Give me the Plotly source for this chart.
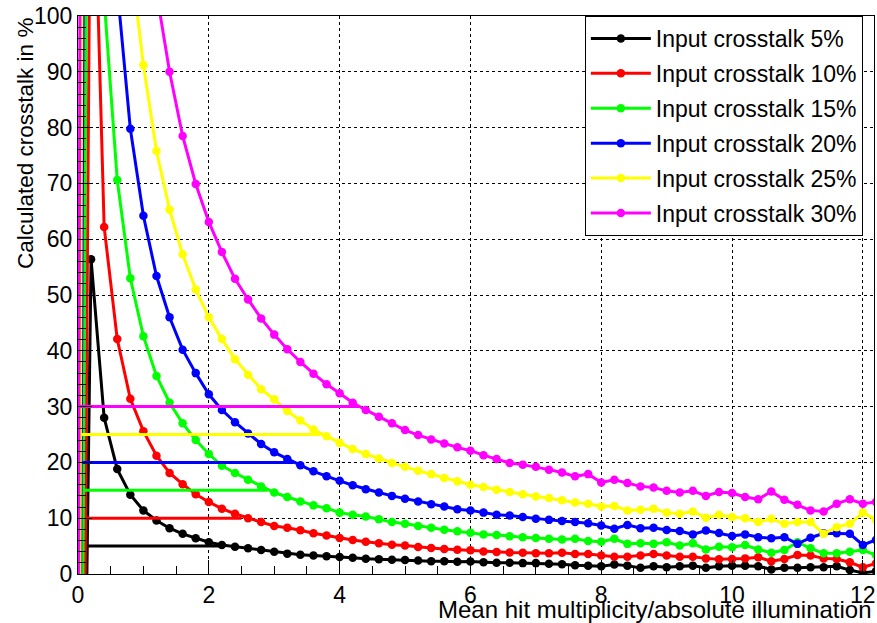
import plotly.graph_objects as go

# Mean hit multiplicity (x) sampled every 0.2, preceded by the x = 0 start point
mu = [0.0] + [round(0.2 * i, 1) for i in range(1, 62)]

series_names = ["Input crosstalk 5%", "Input crosstalk 10%", "Input crosstalk 15%",
                "Input crosstalk 20%", "Input crosstalk 25%", "Input crosstalk 30%"]
series_colors = ["#000000", "#ff0000", "#00ff00", "#0000ff", "#ffff00", "#ff00ff"]

# Input crosstalk levels (%) and how far their reference lines run along x
input_levels = [5, 10, 15, 20, 25, 30]
level_line_end = [2.17, 2.5, 2.9, 3.3, 3.72, 4.3]

ct05 = [-120, 56.4, 28.0, 18.8, 14.2, 11.4, 9.6, 8.2, 7.2, 6.4, 5.7,
        5.2, 4.9, 4.6, 4.3, 4.0, 3.65, 3.45, 3.3, 3.2, 3.05,
        2.9, 2.75, 2.65, 2.55, 2.5, 2.4, 2.3, 2.3, 2.2, 2.25,
        2.1, 2.0, 2.0, 1.95, 1.95, 1.85, 1.75, 1.55, 1.5, 1.4,
        1.7, 1.5, 1.1, 1.4, 1.2, 1.4, 1.5, 1.1, 1.4, 1.5,
        1.5, 1.4, 0.8, 1.1, 1.1, 1.2, 1.2, 1.4, 0.7, 0.2,
        0.5]

ct10 = [-174, 146, 62.2, 42.1, 31.4, 25.6, 21.2, 18.1, 16.1, 14.3, 12.9,
        11.7, 10.8, 10.0, 9.3, 8.6, 8.3, 7.85, 7.3, 6.9, 6.45,
        6.1, 5.8, 5.5, 5.25, 5.1, 4.85, 4.65, 4.5, 4.35, 4.25,
        4.05, 3.95, 3.85, 3.8, 3.7, 3.7, 3.8, 3.6, 3.6, 3.3,
        3.1, 3.1, 3.3, 3.6, 3.3, 3.1, 3.1, 2.8, 2.65, 2.7,
        2.8, 3.0, 2.3, 2.7, 3.4, 3.3, 2.8, 2.7, 2.1, 1.2,
        1.9]

ct15 = [-150, 250, 103, 70.6, 53.0, 42.6, 35.5, 30.7, 27.0, 24.0, 21.5,
        19.4, 18.1, 16.9, 15.7, 14.6, 13.8, 13.0, 12.3, 11.8, 11.0,
        10.6, 10.3, 9.8, 9.3, 9.0, 8.6, 8.3, 7.95, 7.65, 7.4,
        7.1, 7.0, 6.75, 6.6, 6.45, 6.3, 6.2, 6.3, 5.9, 5.8,
        6.3, 5.4, 5.5, 5.4, 5.7, 5.1, 5.5, 4.4, 4.9, 4.8,
        5.2, 4.4, 3.8, 4.3, 5.7, 4.6, 3.7, 3.7, 4.0, 4.3,
        3.4]

ct20 = [-100, 400, 160, 105, 79.8, 64.2, 53.4, 46.0, 40.2, 36.0, 32.2,
        29.4, 27.2, 25.2, 23.3, 21.8, 20.6, 19.5, 18.4, 17.5, 16.7,
        15.9, 15.2, 14.6, 14.0, 13.5, 13.0, 12.5, 12.1, 11.6, 11.4,
        11.0, 10.6, 10.5, 10.2, 9.9, 9.7, 9.5, 9.3, 9.1, 8.7,
        8.1, 8.8, 8.2, 8.3, 7.9, 7.7, 7.1, 7.8, 7.35, 6.8,
        7.1, 6.6, 6.4, 6.6, 5.4, 6.5, 7.3, 7.3, 7.2, 5.2,
        6.1]

ct25 = [-105, 600, 230, 150, 110.7, 91.2, 75.8, 65.3, 57.3, 51.0, 46.0,
        42.1, 38.5, 35.7, 33.1, 31.3, 29.2, 27.5, 25.9, 24.7, 23.5,
        22.4, 21.5, 20.7, 19.9, 19.2, 18.5, 17.9, 17.2, 16.6, 16.0,
        15.6, 15.1, 14.7, 14.3, 13.9, 13.6, 13.2, 12.8, 12.6, 12.1,
        12.2, 11.4, 11.5, 11.7, 11.0, 10.8, 11.2, 10.1, 10.6, 10.2,
        10.0, 9.3, 9.9, 9.0, 9.3, 9.3, 7.2, 8.4, 9.0, 11.0,
        9.7]

ct30 = [-50, 1000, 400, 230, 165, 128, 104.3, 90.0, 78.5, 69.9, 63.1,
        57.7, 52.9, 49.2, 45.8, 42.9, 40.3, 38.0, 35.9, 34.0, 32.4,
        30.7, 29.4, 28.2, 27.0, 25.8, 24.9, 24.1, 23.4, 22.7, 22.1,
        21.3, 20.6, 19.9, 19.6, 19.2, 18.7, 18.2, 17.5, 17.9, 16.4,
        16.9, 16.3, 15.7, 15.5, 14.9, 14.6, 14.9, 14.0, 14.7, 14.5,
        13.8, 13.4, 14.8, 13.3, 12.4, 11.4, 11.2, 12.6, 13.4, 12.6,
        12.9]

all_series = [ct05, ct10, ct15, ct20, ct25, ct30]

FONT = "Liberation Sans, Arial, Helvetica, sans-serif"

fig = go.Figure()

for name, color, values, level, x_end in zip(series_names, series_colors, all_series,
                                               input_levels, level_line_end):
    # horizontal marker of the injected crosstalk level
    fig.add_trace(go.Scatter(
        x=[0, x_end], y=[level, level], mode="lines",
        line=dict(color=color, width=3),
        showlegend=False, hoverinfo="skip", legendgroup=name,
    ))
    fig.add_trace(go.Scatter(
        x=mu, y=values, mode="lines+markers", name=name, legendgroup=name,
        line=dict(color=color, width=3),
        marker=dict(color=color, size=8.5),
    ))

axis_common = dict(
    showline=True, linecolor="black", linewidth=1, mirror=True,
    ticks="inside", ticklen=14, tickcolor="black",
    showgrid=True, gridcolor="black", griddash="dot", gridwidth=1,
    zeroline=False, ticklabeloverflow="allow",
    tickfont=dict(family=FONT, size=23, color="black"),
)

fig.update_layout(
    width=877, height=623,
    margin=dict(l=78, r=1, t=16, b=49),
    paper_bgcolor="white", plot_bgcolor="white",
    font=dict(family=FONT, color="black", size=22),
    legend=dict(
        x=0.986, xanchor="right", y=1.0, yanchor="top",
        bgcolor="white", bordercolor="black", borderwidth=1,
        font=dict(family=FONT, size=23, color="black"),
        tracegroupgap=2, itemwidth=60,
    ),
    xaxis=dict(
        range=[0, 12.17], dtick=2, tick0=0,
        minor=dict(dtick=0.5, ticks="inside", ticklen=8, tickcolor="black", showgrid=False),
        **axis_common,
    ),
    yaxis=dict(
        range=[0, 100], dtick=10, tick0=0,
        minor=dict(dtick=2, ticks="inside", ticklen=8, tickcolor="black", showgrid=False),
        **axis_common,
    ),
    annotations=[
        dict(text="Mean hit multiplicity/absolute illumination",
             xref="paper", yref="paper", x=1.0, y=-0.063,
             xanchor="right", yanchor="middle", showarrow=False,
             font=dict(family=FONT, size=24, color="black")),
        dict(text="Calculated crosstalk in %",
             xref="paper", yref="paper", x=-0.066, y=1.0,
             xanchor="center", yanchor="top", textangle=-90, showarrow=False,
             font=dict(family=FONT, size=22.5, color="black")),
    ],
)

fig.write_html("out.html")
